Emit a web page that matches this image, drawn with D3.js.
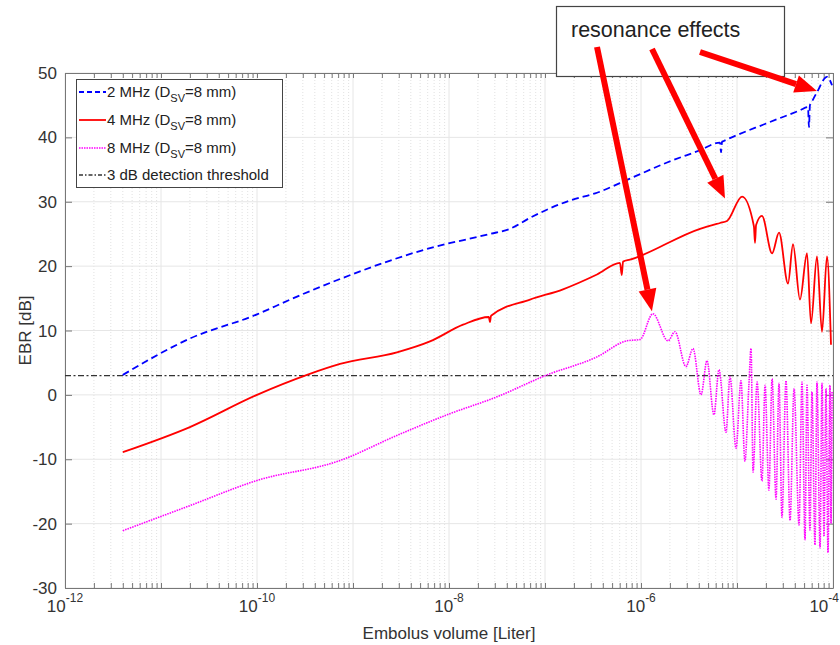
<!DOCTYPE html>
<html>
<head>
<meta charset="utf-8">
<script src="https://cdn.jsdelivr.net/npm/d3@7"></script>
<style>
  body { margin: 0; background: #fff; }
  text { font-family: "Liberation Sans", Arial, sans-serif; }
</style>
</head>
<body>
<div class="canvas"></div>
<script>
// values: volume [Liter], EBR [dB]
const vol2MHz = [4.0e-12, 2.0e-11, 1.0e-10, 2.21e-10, 7.33e-10, 6.34e-9, 2.67e-8, 4.32e-8, 6.98e-8, 1.82e-7, 3.48e-7,
  7.68e-7, 1.87e-6, 4.12e-6, 6.65e-6, 6.82e-6, 6.98e-6, 7.2e-6, 2.05e-5, 4.53e-5, 5.49e-5, 5.62e-5, 5.75e-5, 5.90e-5,
  6.81e-5, 8.66e-5, 9.77e-5];
const ebr2MHz = [3.1, 8.75, 12.5, 14.8, 18.0, 22.8, 25.0, 25.8, 27.5, 30.2, 31.4,
  33.6, 36.1, 38.0, 39.2, 37.7, 39.3, 39.4, 42.2, 44.2, 44.7, 41.6, 45.0, 45.3,
  47.0, 49.4, 48.1];

const vol4MHz = [4.0e-12, 2.0e-11, 1.0e-10, 3.32e-10, 7.33e-10, 2.87e-9, 6.34e-9, 1.40e-8, 2.6e-8, 2.67e-8, 2.74e-8,
  6.98e-8, 1.54e-7, 3.48e-7, 6.04e-7, 6.3e-7, 6.5e-7, 7.68e-7, 4.12e-6, 6.65e-6, 7.87e-6, 1.13e-5, 1.50e-5, 1.54e-5,
  1.58e-5, 1.82e-5, 2.32e-5, 2.74e-5, 3.40e-5, 3.83e-5, 4.53e-5, 5.36e-5, 5.90e-5, 6.81e-5, 7.68e-5, 8.66e-5, 9.53e-5];
const ebr4MHz = [-8.9, -5.0, 0.0, 3.1, 4.8, 6.6, 8.3, 10.9, 12.1, 11.3, 12.3,
  14.8, 16.4, 18.7, 20.5, 18.6, 20.7, 21.0, 25.8, 26.7, 27.0, 30.8, 26.2, 23.6,
  26.4, 27.8, 22.0, 25.2, 17.3, 23.4, 14.8, 22.0, 11.1, 21.5, 9.8, 21.5, 7.8];

const vol8MHz = [4.0e-12, 2.0e-11, 1.0e-10, 7.33e-10, 2.87e-9, 9.53e-9, 3.16e-8, 1.05e-7, 3.48e-7, 7.15e-7, 9.77e-7,
  1.33e-6, 1.91e-6, 2.26e-6, 2.94e-6, 3.48e-6, 4.22e-6, 4.87e-6, 5.75e-6, 6.49e-6, 7.68e-6, 8.45e-6, 9.77e-6, 1.10e-5,
  1.21e-5, 1.33e-5, 1.40e-5, 1.47e-5, 1.62e-5, 1.82e-5, 1.96e-5, 2.15e-5, 2.32e-5, 2.55e-5, 2.74e-5, 2.94e-5, 3.24e-5,
  3.57e-5, 3.93e-5, 4.43e-5, 4.75e-5, 5.11e-5, 5.36e-5, 5.75e-5, 6.04e-5, 6.49e-5, 6.81e-5, 7.33e-5, 7.68e-5, 8.06e-5,
  8.45e-5, 8.87e-5, 9.31e-5, 9.53e-5, 9.77e-5];
const ebr8MHz = [-21.1, -17.2, -13.3, -10.2, -6.3, -3.1, -0.3, 3.1, 5.9, 8.4, 8.6,
  12.6, 8.4, 9.8, 4.4, 7.2, 0.0, 5.3, -3.1, 3.9, -5.8, 2.8, -8.3, 2.2,
  -10.3, 1.5, 7.2, -12.0, 2.0, -13.4, 1.5, -14.8, 2.5, -16.2, 1.8, -19.0, 2.2,
  -19.5, 1.0, -20.2, 2.0, -22.5, 1.5, -21.0, 0.5, -23.3, 2.0, -23.8, 1.8, -22.0,
  1.0, -24.5, 1.5, -20.0, 0.5];

const threshold = 3;
const legendLabels = ['2 MHz (D', '4 MHz (D', '8 MHz (D', '3 dB detection threshold'];
const xTickExps = [-12, -10, -8, -6, -4];
const yTicks = [-30, -20, -10, 0, 10, 20, 30, 40, 50];

const width = 840, height = 645;
const margin = {top: 73, right: 7, bottom: 60, left: 65};

const svg = d3.select('.canvas')
  .append('svg')
    .attr('width', width)
    .attr('height', height);

const x = d3.scaleLog()
  .domain([1e-12, 1e-4])
  .range([margin.left, width - margin.right]);

const y = d3.scaleLinear()
  .domain([-30, 50])
  .range([height - margin.bottom + 3, margin.top]);

const x0 = x.range()[0], x1 = x.range()[1];
const y0 = y.range()[0], y1 = y.range()[1];

// minor and major x positions
const minorX = [];
for (let e = -12; e < -4; e++) {
  for (let k = 2; k <= 9; k++) minorX.push(k * Math.pow(10, e));
}
const majorX = d3.range(-12, -3).map(e => Math.pow(10, e));

// grid
const grid = svg.append('g');
grid.selectAll('.minor').data(minorX).enter().append('line')
  .attr('x1', d => x(d)).attr('x2', d => x(d))
  .attr('y1', y0).attr('y2', y1)
  .attr('stroke', '#d9d9d9').attr('stroke-width', 0.8)
  .attr('stroke-dasharray', '1,2');
grid.selectAll('.majorx').data(majorX).enter().append('line')
  .attr('x1', d => x(d)).attr('x2', d => x(d))
  .attr('y1', y0).attr('y2', y1)
  .attr('stroke', '#e6e6e6').attr('stroke-width', 1);
grid.selectAll('.majory').data(yTicks).enter().append('line')
  .attr('x1', x0).attr('x2', x1)
  .attr('y1', d => y(d)).attr('y2', d => y(d))
  .attr('stroke', '#e6e6e6').attr('stroke-width', 1);

// axes, ticks inward like matlab
const allX = majorX.concat(minorX);
svg.append('g')
  .attr('transform', `translate(0,${y0})`)
  .call(d3.axisBottom(x).tickValues(allX).tickSizeInner(-5).tickSizeOuter(0).tickFormat(''));
svg.append('g')
  .attr('transform', `translate(0,${y1})`)
  .call(d3.axisTop(x).tickValues(allX).tickSizeInner(-5).tickSizeOuter(0).tickFormat(''));
svg.append('g')
  .attr('transform', `translate(${x0},0)`)
  .call(d3.axisLeft(y).tickValues(yTicks).tickSizeInner(-7).tickSizeOuter(0).tickFormat(''));
svg.append('g')
  .attr('transform', `translate(${x1},0)`)
  .call(d3.axisRight(y).tickValues(yTicks).tickSizeInner(-7).tickSizeOuter(0).tickFormat(''));
svg.selectAll('.domain').attr('stroke', '#777');
svg.selectAll('.tick line').attr('stroke', '#777');

// tick labels
svg.append('g').selectAll('text').data(yTicks).enter().append('text')
  .attr('x', x0 - 8).attr('y', d => y(d) + 6)
  .attr('text-anchor', 'end')
  .attr('font-size', 17).attr('fill', '#333')
  .text(d => d);

// last label would run past the edge, so pull it in
const xl = svg.append('g').selectAll('text').data(xTickExps).enter().append('text')
  .attr('x', d => d === -4 ? width - 1 : x(Math.pow(10, d)))
  .attr('y', 612)
  .attr('text-anchor', d => d === -4 ? 'end' : 'middle')
  .attr('font-size', 17).attr('fill', '#333');
xl.append('tspan').text('10');
xl.append('tspan').attr('dy', -10).attr('font-size', 12).text(d => d);

// axis labels
svg.append('text')
  .attr('x', (x0 + x1) / 2).attr('y', 639)
  .attr('text-anchor', 'middle')
  .attr('font-size', 17).attr('fill', '#333')
  .text('Embolus volume [Liter]');
svg.append('text')
  .attr('transform', `translate(31,${(y0 + y1) / 2}) rotate(-90)`)
  .attr('text-anchor', 'middle')
  .attr('font-size', 17).attr('fill', '#333')
  .text('EBR [dB]');

// data lines
const line = d3.line().x(d => x(d[0])).y(d => y(d[1])).curve(d3.curveMonotoneX);

svg.append('line')
  .attr('x1', x0).attr('x2', x1)
  .attr('y1', y(threshold)).attr('y2', y(threshold))
  .attr('stroke', '#333').attr('stroke-width', 1.3)
  .attr('stroke-dasharray', '6,2.5,2,2.5');

svg.append('path')
  .datum(d3.zip(vol8MHz, ebr8MHz))
  .attr('d', line)
  .attr('fill', 'none').attr('stroke', '#ff00ff').attr('stroke-width', 1.6)
  .attr('stroke-dasharray', '1.5,1');

svg.append('path')
  .datum(d3.zip(vol4MHz, ebr4MHz))
  .attr('d', line)
  .attr('fill', 'none').attr('stroke', '#ff0000').attr('stroke-width', 1.8);

svg.append('path')
  .datum(d3.zip(vol2MHz, ebr2MHz))
  .attr('d', line)
  .attr('fill', 'none').attr('stroke', '#0000ff').attr('stroke-width', 1.8)
  .attr('stroke-dasharray', '7,4');

// legend
const legend = svg.append('g');
legend.append('rect')
  .attr('x', 76.5).attr('y', 79.5).attr('width', 206).attr('height', 108)
  .attr('fill', '#fff').attr('stroke', '#444').attr('stroke-width', 1);

const legendStyles = [
  {color: '#0000ff', dash: '5,3', w: 1.8},
  {color: '#ff0000', dash: null, w: 1.8},
  {color: '#ff00ff', dash: '1.5,1', w: 1.6},
  {color: '#333', dash: '4,2,1.5,2', w: 1.3}
];
const rowY = [92, 120, 148, 175];
legendLabels.forEach((lab, i) => {
  legend.append('line')
    .attr('x1', 79).attr('x2', 106)
    .attr('y1', rowY[i]).attr('y2', rowY[i])
    .attr('stroke', legendStyles[i].color)
    .attr('stroke-width', legendStyles[i].w)
    .attr('stroke-dasharray', legendStyles[i].dash);
  const t = legend.append('text')
    .attr('x', 107).attr('y', rowY[i] + 5)
    .attr('font-size', 15).attr('fill', '#222');
  t.append('tspan').text(lab);
  if (i < 3) {
    t.append('tspan').attr('dy', 5).attr('font-size', 11).text('SV');
    t.append('tspan').attr('dy', -5).text('=8 mm)');
  }
});

// annotation
const note = svg.append('g');
note.append('rect')
  .attr('x', 556.5).attr('y', 6.5).attr('width', 228).attr('height', 70)
  .attr('fill', '#fff').attr('stroke', '#444').attr('stroke-width', 1.2);
note.append('text')
  .attr('x', 571).attr('y', 37)
  .attr('font-family', '"Open Sans", sans-serif')
  .attr('font-size', 21.5).attr('fill', '#222')
  .text('resonance effects');

const arrows = [
  {from: [597, 47], to: [1.3e-6, 13.0]},
  {from: [652, 49], to: [7.5e-6, 30.5]},
  {from: [700, 52], to: [6.8e-5, 47.2]}
];
arrows.forEach(a => {
  const tx = x(a.to[0]), ty = y(a.to[1]);
  const ang = Math.atan2(ty - a.from[1], tx - a.from[0]);
  const head = 22, half = 9;
  const bx = tx - head * Math.cos(ang), by = ty - head * Math.sin(ang);
  note.append('line')
    .attr('x1', a.from[0]).attr('y1', a.from[1])
    .attr('x2', bx).attr('y2', by)
    .attr('stroke', '#ff0000').attr('stroke-width', 6);
  const px = -Math.sin(ang), py = Math.cos(ang);
  note.append('path')
    .attr('d', `M${tx},${ty}L${bx + px * half},${by + py * half}L${bx - px * half},${by - py * half}Z`)
    .attr('fill', '#ff0000');
});
</script>
</body>
</html>
